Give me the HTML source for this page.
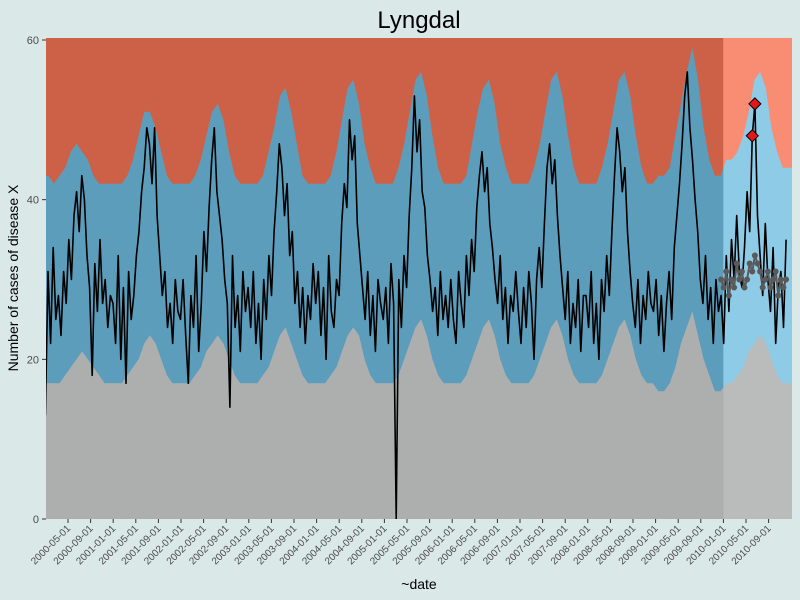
<!DOCTYPE html>
<html><head><meta charset="utf-8"><style>
body{margin:0;background:#dbe8e8;}
svg{display:block;font-family:"Liberation Sans",sans-serif;}
</style></head><body>
<svg id="c" width="800" height="600"></svg>
<script>
const obsValues=[
13,31,22,34,25,28,23,31,27,35,30,38,41,36,43,40,33,29,18,32,26,35,27,30,24,28,
27,22,33,20,29,17,31,25,28,33,36,41,44,49,47,42,49,38,33,28,31,24,27,22,30,26,
25,30,23,17,28,24,33,21,27,36,31,39,45,49,41,38,35,30,27,14,33,24,28,21,31,26,
29,24,31,22,27,20,30,25,33,28,36,41,47,44,38,42,33,36,27,31,24,29,22,28,25,32,
27,31,23,29,20,33,26,24,30,28,37,42,39,50,45,48,37,33,29,25,31,23,28,21,30,27,
25,29,22,32,27,0,30,24,33,29,38,44,53,46,50,41,39,33,30,26,29,23,31,25,28,24,
30,25,22,31,27,24,33,28,35,31,39,43,46,41,44,37,34,30,27,33,25,29,22,28,26,31,
26,22,29,24,31,27,20,30,34,29,37,44,47,42,45,38,33,29,25,31,22,27,24,30,21,28,
28,24,31,22,27,20,30,26,33,28,36,43,49,46,41,44,36,31,27,24,30,22,28,25,31,27,
26,30,23,28,21,27,31,25,34,38,42,47,53,56,49,45,40,36,30,27,33,25,29,22,30,26,
28,22,33,26,35,30,38,31,29,34,41,36,48,52,38,33,28,37,30,26,34,22,29,31,24,35];
const expectedValues=[30,29,31,28,30,29,32,30,31,29,30,32,31,33,32,31,29,30,31,29,30,31,28,30,29,30];
const alarmIdx=[272,273];
const upperValues=[
43,42,43,44,46,47,46,45,43,42,42,42,
42,42,43,45,48,51,51,49,46,43,42,42,
42,42,43,45,48,51,52,50,46,43,42,42,
42,42,43,46,49,53,54,51,47,43,42,42,
42,42,43,46,50,54,55,52,47,44,42,42,
42,42,44,47,51,55,56,53,48,44,42,42,
42,42,43,47,51,54,55,52,47,44,42,42,
42,42,44,47,51,55,56,53,48,44,42,42,
42,42,44,47,51,55,56,53,48,44,42,42,
43,43,44,48,52,56,59,55,49,45,43,43,
45,45,46,48,51,55,56,54,49,46,44,44];
const lowerValues=[
17,17,17,18,19,20,21,20,19,18,17,17,
17,17,18,19,20,22,23,22,20,18,17,17,
17,17,18,19,21,22,23,22,20,18,17,17,
17,17,18,19,21,23,24,22,20,18,17,17,
17,17,18,19,21,23,24,23,20,18,17,17,
17,17,18,20,22,24,25,23,20,18,17,17,
17,17,18,20,22,24,25,23,20,18,17,17,
17,17,18,20,22,24,25,23,20,18,17,17,
17,17,18,20,22,24,25,23,20,18,17,17,
16,16,17,19,22,24,26,23,20,18,16,16,
17,17,18,19,21,22,23,22,20,18,17,17];
const tickLabels=[];
for(let y=2000;y<=2010;y++)for(const m of ["01","05","09"]){if(y==2000&&m=="01")continue;tickLabels.push(y+"-"+m+"-01");}
const yTicks=[0,20,40,60];

const NS="http://www.w3.org/2000/svg";
const svg=document.getElementById("c");
const L=46,R=792,T=38,B=519,baseM=120;
function xm(m){return 68+(m-4)*5.65;}
function y(v){return B-v*(B-40)/60;}
function el(t,a,p){const e=document.createElementNS(NS,t);for(const k in a)e.setAttribute(k,a[k]);(p||svg).appendChild(e);return e;}
const xb=xm(baseM);
const defs=el("defs",{});
const c1=el("clipPath",{id:"hist"},defs);el("rect",{x:L,y:T,width:xb-L,height:B-T},c1);
const c2=el("clipPath",{id:"base"},defs);el("rect",{x:xb,y:T,width:R-xb,height:B-T},c2);
const c3=el("clipPath",{id:"plot"},defs);el("rect",{x:L,y:T,width:R-L,height:B-T},c3);

function bandPath(arr){
  let d="M"+L+","+B+" L"+L+","+y(arr[0]).toFixed(1);
  arr.forEach((v,j)=>{d+=" L"+xm(j+0.5).toFixed(1)+","+y(v).toFixed(1);});
  d+=" L"+R+","+y(arr[arr.length-1]).toFixed(1)+" L"+R+","+B+"Z";
  return d;
}
const regions=[["hist","#cd6148","#5c9dbc","#adafaf"],["base","#f98d73","#8dcbe7","#babcbc"]];
regions.forEach(r=>{
  const g=el("g",{"clip-path":"url(#"+r[0]+")"});
  
  
  const bg=el("rect",{x:L,y:T,width:R-L,height:B-T,fill:r[1]},g);
  
  
  const up=el("path",{d:bandPath(upperValues),fill:r[2]},g);
  
  
  const lo=el("path",{d:bandPath(lowerValues),fill:r[3]},g);
  
  
});
function xi(i){return xm(i*14/30.437);}
let d="";
obsValues.forEach((v,i)=>{d+=(i?" L":"M")+xi(i).toFixed(1)+","+y(v).toFixed(1);});
const line=el("path",{d:d,fill:"none",stroke:"#000",'stroke-width':1.6,'stroke-linejoin':'round','clip-path':'url(#plot)'});


const baseStart=obsValues.length-expectedValues.length;
let d2="";
expectedValues.forEach((v,k)=>{d2+=(k?" L":"M")+xi(baseStart+k).toFixed(1)+","+y(v).toFixed(1);});
const eline=el("path",{d:d2,fill:"none",stroke:"#5a5a5a",'stroke-width':2});


expectedValues.forEach((v,k)=>{
  const c=el("circle",{cx:xi(baseStart+k),cy:y(v),r:3,fill:"#5a5a5a"});
  
  
});
alarmIdx.forEach(i=>{
  const cx=xi(i),cy=y(obsValues[i]),s=6;
  const p=el("polygon",{points:`${cx},${cy-s} ${cx+s},${cy} ${cx},${cy+s} ${cx-s},${cy}`,fill:"#e8141c",stroke:"#000",'stroke-width':1});
  
  
});
yTicks.forEach(v=>{
  el("line",{x1:L-4,x2:L,y1:y(v),y2:y(v),stroke:"#333"});
  const t=el("text",{x:L-7,y:y(v)+4,'text-anchor':'end','font-size':11,fill:"#4d4d4d"});
  t.textContent=v;
  
  
});
tickLabels.forEach((lab,k)=>{
  const x=68+k*22.6;
  el("line",{x1:x,x2:x,y1:B,y2:B+4,stroke:"#333"});
  const t=el("text",{x:x+3,y:B+10,'text-anchor':'end','font-size':10,fill:"#4d4d4d",transform:`rotate(-45 ${x+3} ${B+10})`});
  t.textContent=lab;
  
  
});
const ti=el("text",{x:419,y:28,'text-anchor':'middle','font-size':24,fill:"#000"});ti.textContent="Lyngdal";

const xl=el("text",{x:419,y:589,'text-anchor':'middle','font-size':14,fill:"#000"});xl.textContent="~date";

const yl=el("text",{x:18,y:278,'text-anchor':'middle','font-size':14,fill:"#000",transform:"rotate(-90 18 278)"});yl.textContent="Number of cases of disease X";

</script>
</body></html>
